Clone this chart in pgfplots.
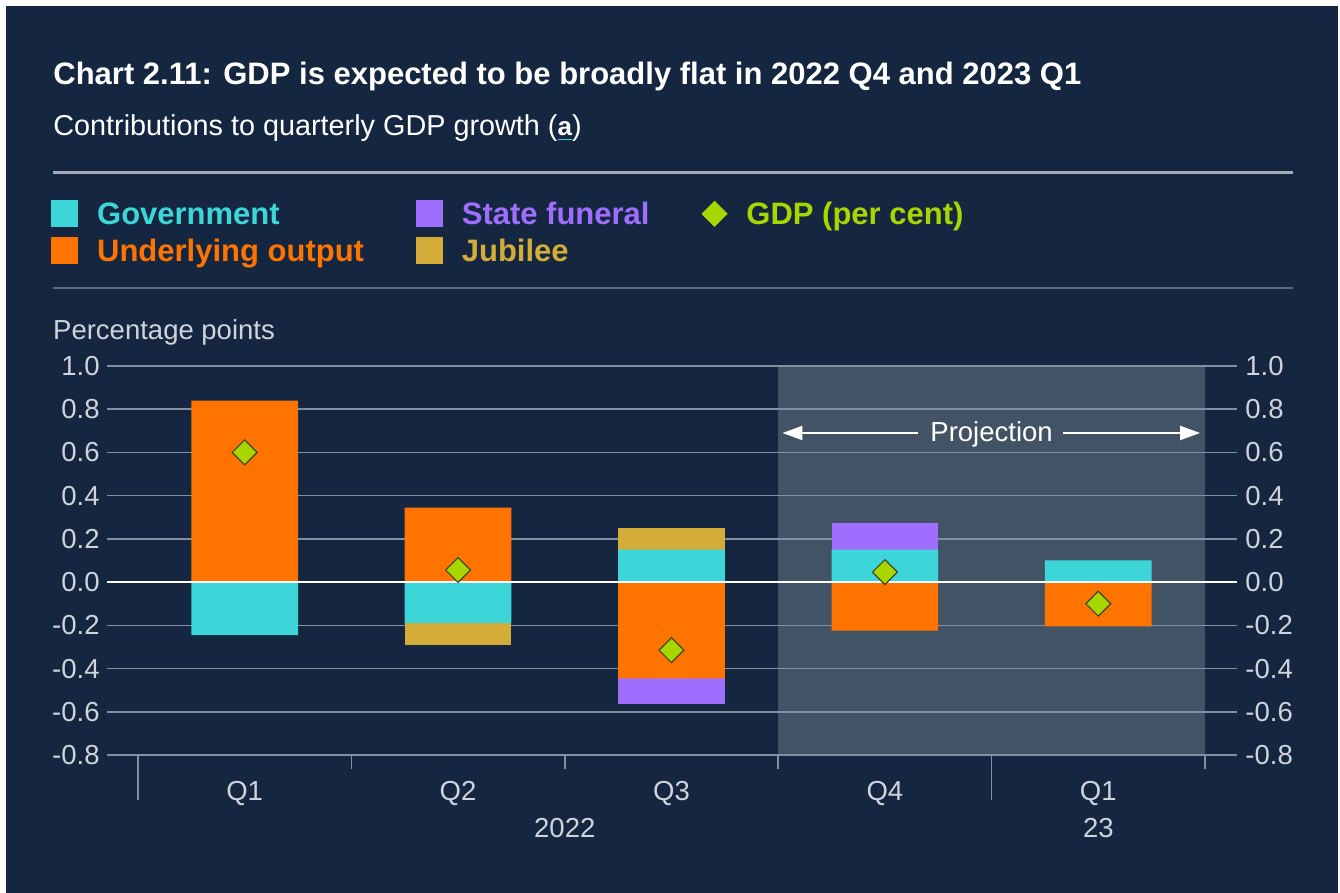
\documentclass[border=0pt]{standalone}
\usepackage{pgfplots}
\pgfplotsset{compat=1.18}
\usepackage{fontspec}
\setmainfont{Liberation Sans}
\usetikzlibrary{arrows.meta}

\definecolor{navy}{HTML}{142640}
\definecolor{proj}{HTML}{435366}
\definecolor{gridc}{HTML}{8390A2}
\definecolor{tickc}{HTML}{D0D4DA}
\definecolor{govc}{HTML}{3DD6D8}
\definecolor{undc}{HTML}{FF7300}
\definecolor{sfc}{HTML}{A06EFF}
\definecolor{jubc}{HTML}{D4AC38}
\definecolor{gdpc}{HTML}{A8D600}
\definecolor{gdpedge}{HTML}{3E4A2E}
\definecolor{rulea}{HTML}{A3AAB6}
\definecolor{ruleb}{HTML}{5B6B80}

\pgfplotsset{
  base/.style={
    at={(53.5pt,69pt)}, anchor=south west,
    width=565pt, height=194.5pt, scale only axis,
    xmin=-0.645, xmax=4.65, ymin=-0.8, ymax=1.0,
    enlargelimits=false,
    axis line style={draw=none},
    ytick={-0.8,-0.6,-0.4,-0.2,0,0.2,0.4,0.6,0.8,1.0},
    yticklabels={-0.8,-0.6,-0.4,-0.2,0.0,0.2,0.4,0.6,0.8,1.0},
    ytick style={draw=none},
    ticklabel style={font=\fontsize{13.75}{16}\selectfont, text=tickc},
    clip=false,
  },
}

\begin{document}
\begin{tikzpicture}
\fill[white] (0,0) rectangle (670pt,446.5pt);
\fill[navy] (3pt,0) rectangle (669pt,443.5pt);
\node[anchor=base west, inner sep=0pt, text=white, font=\bfseries\fontsize{15.5}{18}\selectfont] at (26.5pt,404pt) {Chart 2.11: GDP is expected to be broadly flat in 2022 Q4 and 2023 Q1};
\node[anchor=base west, inner sep=0pt, text=white, font=\fontsize{14.4}{17}\selectfont] at (26.5pt,378.5pt) {Contributions to quarterly GDP growth (\textcolor{govc}{\underline{\textcolor{white}{\textbf{\fontsize{13}{15}\selectfont a}}}})};
\draw[rulea, line width=1.4pt] (26.5pt,360.25pt) -- (646.5pt,360.25pt);
\draw[ruleb, line width=0.9pt] (26.5pt,302.5pt) -- (646.5pt,302.5pt);
\node[anchor=base west, inner sep=0pt, text=tickc, font=\fontsize{13.75}{16}\selectfont] at (26.4pt,276.5pt) {Percentage points};

% Axis 0: projection shading
\begin{axis}[base, xtick=\empty, ytick=\empty]
\fill[proj] (axis cs:2.5,-0.8) rectangle (axis cs:4.5,1.0);
\end{axis}

% Axis A: grid, ticks, left labels, positive stack
\begin{axis}[base, ybar stacked, bar width=0.5,
  ymajorgrids, grid style={gridc, line width=0.8pt},
  xtick={0,1,2,3,4}, xticklabels={Q1,Q2,Q3,Q4,Q1},
  xtick pos=lower,
  major tick length=0pt, minor tick length=7pt,
  minor xtick={0.5,1.5,2.5,4.5},
  tick align=outside,
  xtick style={gridc, line width=0.8pt},
  extra x ticks={-0.5,3.5}, extra x tick labels={},
  extra x tick style={major tick length=22.5pt, grid=none},
  xticklabel style={anchor=base, yshift=-23pt, inner sep=0pt},
  yticklabel style={anchor=east, inner sep=0pt, xshift=-3.5pt},
]
\addplot[fill=undc, draw=none] coordinates {(0,0.84) (1,0.345) (2,0) (3,0) (4,0)};
\addplot[fill=govc, draw=none] coordinates {(0,0) (1,0) (2,0.15) (3,0.15) (4,0.10)};
\addplot[fill=jubc, draw=none] coordinates {(0,0) (1,0) (2,0.10) (3,0) (4,0)};
\addplot[fill=sfc, draw=none] coordinates {(0,0) (1,0) (2,0) (3,0.125) (4,0)};
\node[anchor=base, inner sep=0pt, text=tickc, font=\fontsize{13.75}{16}\selectfont, yshift=-41.5pt] at (axis cs:1.5,-0.8) {2022};
\node[anchor=base, inner sep=0pt, text=tickc, font=\fontsize{13.75}{16}\selectfont, yshift=-41.5pt] at (axis cs:4,-0.8) {23};
\end{axis}

% Axis B: negative stack
\begin{axis}[base, ybar stacked, bar width=0.5, xtick=\empty, ytick=\empty]
\addplot[fill=govc, draw=none] coordinates {(0,-0.245) (1,-0.19) (2,0) (3,0) (4,0)};
\addplot[fill=undc, draw=none] coordinates {(0,0) (1,0) (2,-0.445) (3,-0.225) (4,-0.205)};
\addplot[fill=jubc, draw=none] coordinates {(0,0) (1,-0.10) (2,0) (3,0) (4,0)};
\addplot[fill=sfc, draw=none] coordinates {(0,0) (1,0) (2,-0.12) (3,0) (4,0)};
\end{axis}

% Axis C: zero line, GDP, right labels, legend, annotation
\begin{axis}[base, xtick=\empty,
  yticklabel pos=right,
  yticklabel style={anchor=west, inner sep=0pt, xshift=4pt},
  legend columns=3, legend cell align=left,
  legend style={at={(-0.0496,1.4267)}, anchor=north west, draw=none, fill=none,
    inner sep=0pt, font=\bfseries\fontsize{15.5}{18}\selectfont, row sep=5pt,
    nodes={inner sep=0pt, text height=11.1pt, text depth=0pt},
    /tikz/every odd column/.append style={column sep=9.5pt},
    /tikz/every even column/.append style={column sep=26pt}},
]
\draw[white, line width=1.2pt] (axis cs:-0.645,0) -- (axis cs:4.65,0);
\draw[white, line width=1pt, -{Triangle[length=10pt,width=7pt]}] (axis cs:3.155,0.69) -- (axis cs:2.52,0.69);
\draw[white, line width=1pt, -{Triangle[length=10pt,width=7pt]}] (axis cs:3.835,0.69) -- (axis cs:4.477,0.69);
\node[anchor=base, inner sep=0pt, text=white, font=\fontsize{13.75}{16}\selectfont] at (axis cs:3.5,0.65) {Projection};
\addplot[forget plot, only marks, mark=square*, mark size=4.4pt,
  mark options={rotate=45, fill=gdpc, draw=gdpedge, line width=0.6pt}]
  coordinates {(0,0.60) (1,0.056) (2,-0.315) (3,0.046) (4,-0.10)};
\addlegendimage{legend image code/.code={\fill[govc] (0pt,-6.5pt) rectangle (13pt,6.5pt);}}
\addlegendentry{\textcolor{govc}{Government}}
\addlegendimage{legend image code/.code={\fill[sfc] (0pt,-6.5pt) rectangle (13pt,6.5pt);}}
\addlegendentry{\textcolor{sfc}{State funeral}}
\addlegendimage{legend image code/.code={\fill[gdpc] (6.5pt,-6.25pt) -- (12.75pt,0pt) -- (6.5pt,6.25pt) -- (0.25pt,0pt) -- cycle;}}
\addlegendentry{\textcolor{gdpc}{GDP (per cent)}}
\addlegendimage{legend image code/.code={\fill[undc] (0pt,-6.5pt) rectangle (13pt,6.5pt);}}
\addlegendentry{\textcolor{undc}{Underlying output}}
\addlegendimage{legend image code/.code={\fill[jubc] (0pt,-6.5pt) rectangle (13pt,6.5pt);}}
\addlegendentry{\textcolor{jubc}{Jubilee}}
\end{axis}
\end{tikzpicture}
\end{document}
